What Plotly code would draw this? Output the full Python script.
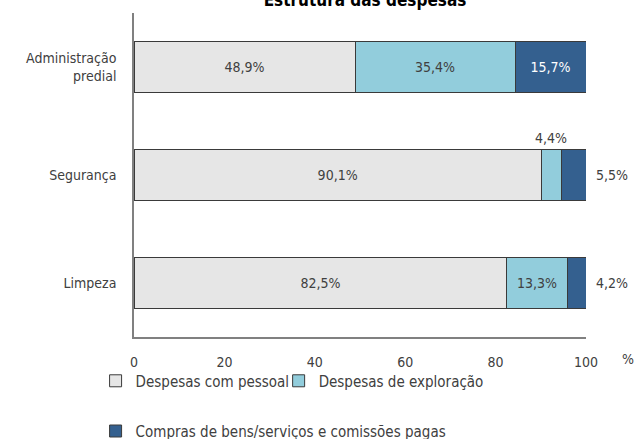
import plotly.graph_objects as go

# Data
categories = ['Administração<br>predial', 'Segurança', 'Limpeza']
pessoal = [48.9, 90.1, 82.5]
exploracao = [35.4, 4.4, 13.3]
compras = [15.7, 5.5, 4.2]

series_names = ['Despesas com pessoal', 'Despesas de exploração',
                'Compras de bens/serviços e comissões pagas']
colors = ['#e6e6e6', '#92cddc', '#34608f']
x_ticks = [0, 20, 40, 60, 80, 100]

FONT = 'DejaVu Sans Condensed, Liberation Sans Narrow, Arial Narrow, sans-serif'
TXT = '#404040'
SMALL = 8  # segments narrower than this get their label outside


def fmt(v):
    return f'{v:.1f}%'.replace('.', ',')


legend_ids = ['legend', 'legend2', 'legend3']

fig = go.Figure()
for i, (name, vals) in enumerate(zip(series_names, [pessoal, exploracao, compras])):
    fig.add_trace(go.Bar(
        y=categories,
        x=vals,
        orientation='h',
        name=name,
        marker=dict(color=colors[i], line=dict(color='#3a3a3a', width=1)),
        text=[fmt(v) if v >= SMALL else '' for v in vals],
        textposition='inside',
        insidetextanchor='middle',
        textangle=0,
        textfont=dict(family=FONT, size=14, color=TXT if i < 2 else 'white'),
        width=0.48,
        legend=legend_ids[i],
        hovertemplate='%{y}: %{x}%<extra>' + name + '</extra>',
    ))

# outside labels for the small segments
annotations = []
for j, cat in enumerate(categories):
    if exploracao[j] < SMALL:
        annotations.append(dict(
            x=pessoal[j] + exploracao[j] / 2, y=cat, yshift=37,
            text=fmt(exploracao[j]), showarrow=False,
            font=dict(family=FONT, size=14, color=TXT)))
    if compras[j] < SMALL:
        annotations.append(dict(
            x=100, y=cat, xanchor='left', xshift=8,
            text=fmt(compras[j]), showarrow=False,
            font=dict(family=FONT, size=14, color=TXT)))

annotations.append(dict(
    x=1, xref='paper', xanchor='left', xshift=34,
    y=0, yref='paper', yanchor='top', yshift=-12,
    text='%', showarrow=False, font=dict(family=FONT, size=14, color=TXT)))

legend_style = dict(orientation='h', xanchor='left', yanchor='top',
                    bgcolor='rgba(0,0,0,0)', itemwidth=30,
                    font=dict(family=FONT, size=15, color=TXT))

fig.update_layout(
    width=637, height=439,
    margin=dict(l=134, r=51, t=13, b=102, autoexpand=False),
    paper_bgcolor='white', plot_bgcolor='white',
    barmode='stack',
    title=dict(text='<b>Estrutura das despesas</b>', x=0.573, xanchor='center',
               y=1.0, yref='container', yanchor='middle',
               font=dict(family=FONT, size=17, color='black')),
    font=dict(family=FONT, size=14, color=TXT),
    xaxis=dict(range=[0, 100], tickvals=x_ticks, showgrid=False, zeroline=False,
               showline=True, linecolor='#808080', linewidth=1.5,
               ticks='outside', ticklen=11, tickcolor='rgba(0,0,0,0)',
               tickfont=dict(family=FONT, size=14, color=TXT)),
    yaxis=dict(autorange='reversed', showgrid=False, zeroline=False,
               showline=True, linecolor='#808080', linewidth=1.5,
               ticks='outside', ticklen=13, tickcolor='rgba(0,0,0,0)',
               tickfont=dict(family=FONT, size=14, color=TXT)),
    legend=dict(legend_style, x=-0.085, y=-0.085),
    legend2=dict(legend_style, x=0.32, y=-0.085),
    legend3=dict(legend_style, x=-0.085, y=-0.24),
    annotations=annotations,
    showlegend=True,
)

# the page body has a default 8px margin; drop it so the figure sits at 0,0
fig.write_html('out.html', config={'displayModeBar': False},
               post_script="document.body.style.margin='0';")
